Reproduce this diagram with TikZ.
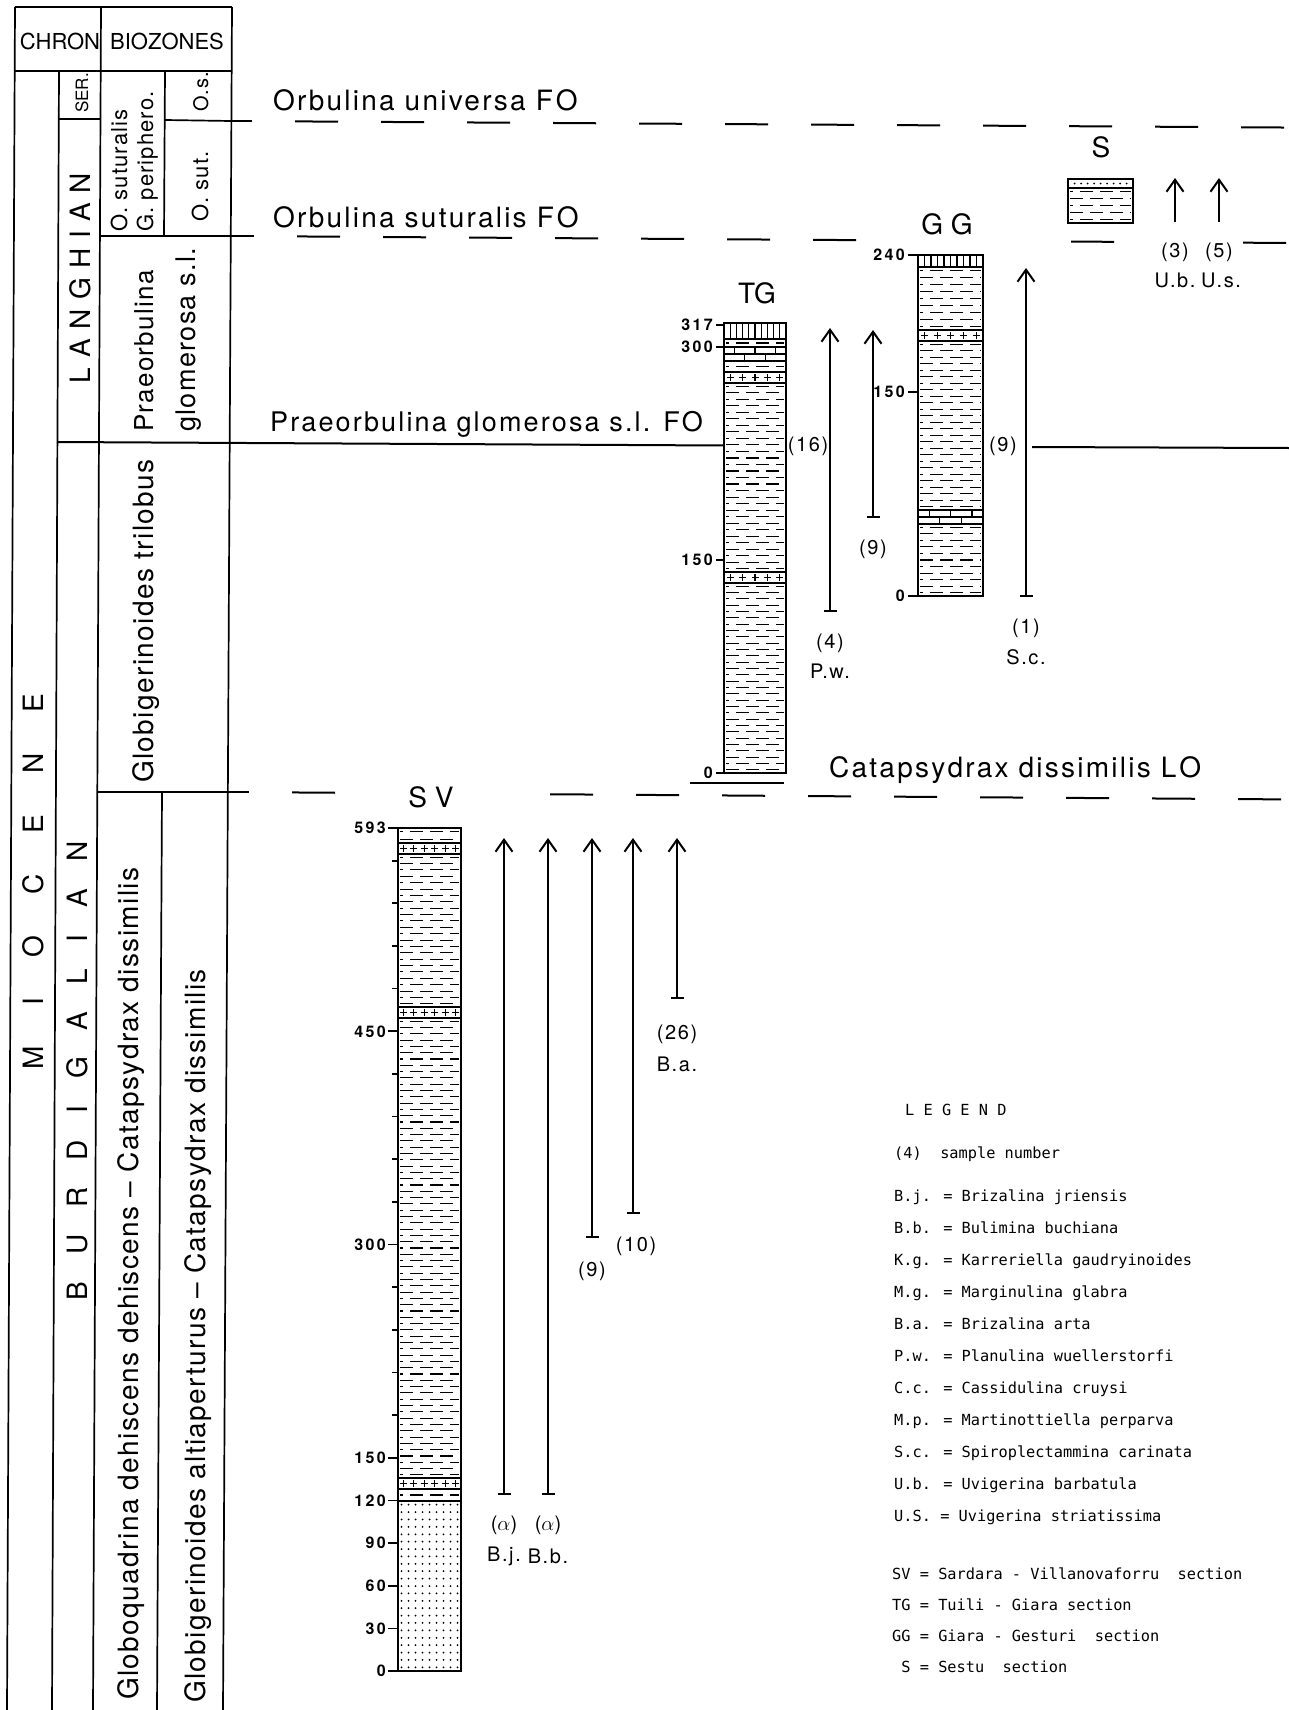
\documentclass[tikz,border=0pt]{standalone}
\usepackage{fontspec}
\usepackage{amsmath}
\usetikzlibrary{arrows.meta,positioning}
\setmainfont{TeX Gyre Heros}
\newfontfamily\evfont{TeX Gyre Heros}[LetterSpace=8]
\newfontfamily\zonefont{TeX Gyre Heros}[LetterSpace=5]
\newfontfamily\smpfont{TeX Gyre Heros}[LetterSpace=8]
\newfontfamily\numfont{TeX Gyre Heros}[LetterSpace=15]
\newfontfamily\legfont{DejaVu Sans Mono}

% lithology symbols: x from #1 to #2, y from #3 to #4 (y grows downwards)
\newcommand\shale[4]{%
  \pgfmathtruncatemacro\nrow{max(1,(#4-#3)/6.3)}%
  \pgfmathsetmacro\rowh{(#4-#3)/\nrow}%
  \foreach \rr in {1,...,\nrow}{%
    \pgfmathsetmacro\yy{#3+(\rr-0.5)*\rowh}%
    \pgfmathsetmacro\ph{mod(\rr,2)*10}%
    \draw[litho,dash pattern=on 13pt off 7pt,dash phase=\ph pt] (#1+2,\yy) -- (#2-2,\yy);
  }}
\newcommand\crossband[4]{%
  \draw[litho] (#1,#3) -- (#2,#3) (#1,#3+11) -- (#2,#3+11);
  \foreach \i in {1,...,#4}{%
    \pgfmathsetmacro\xx{#1+(\i-0.5)*(#2-#1)/#4}%
    \draw[litho] (\xx-3.5,#3+5.5) -- (\xx+3.5,#3+5.5) (\xx,#3+2) -- (\xx,#3+9);
  }}
\newcommand\brick[3]{%
  \draw[litho] (#1,#3) -- (#2,#3) (#1,#3+7) -- (#2,#3+7) (#1,#3+14) -- (#2,#3+14);
  \foreach \f in {0.17,0.5,0.83} \draw[litho] ({#1+\f*(#2-#1)},#3) -- ++(0,7);
  \foreach \f in {0.33,0.67} \draw[litho] ({#1+\f*(#2-#1)},#3+7) -- ++(0,7);
}
\newcommand\hatch[4]{%
  \draw[litho] (#1,#4) -- (#2,#4);
  \foreach \i in {1,...,9} \draw[litho] ({#1+\i*(#2-#1)/10},#3) -- ({#1+\i*(#2-#1)/10},#4);
}
\newcommand\sand[4]{%
  \pgfmathtruncatemacro\nrow{(#4-#3)/7.2}%
  \pgfmathsetmacro\rowh{(#4-#3)/\nrow}%
  \foreach \rr in {1,...,\nrow}{%
    \foreach \cc in {1,...,9}{%
      \fill ({#1+(\cc-0.5)*(#2-#1)/9},{#3+(\rr-0.5)*\rowh}) circle (1pt);
    }}}

\begin{document}
\begin{tikzpicture}[x=1pt,y=-1pt,
  frame/.style={line width=1.7pt},
  col/.style={draw,line width=2.6pt},
  evt/.style={line width=2pt},
  litho/.style={line width=1.1pt},
  taxrange/.style={line width=2pt,{Bar[width=13pt]}-{Straight Barb[length=12pt,width=17pt]}},
  uparrow/.style={line width=2pt,-{Straight Barb[length=12pt,width=17pt]}},
  head/.style={inner sep=0pt,font=\fontsize{22}{24}\selectfont},
  stage/.style={inner sep=0pt,rotate=90,font=\fontsize{28}{30}\selectfont},
  zone/.style={inner sep=0pt,rotate=90,anchor=base west,font=\zonefont\fontsize{28}{30}\selectfont},
  evtext/.style={inner sep=0pt,anchor=base west,font=\evfont\fontsize{28}{30}\selectfont},
  sectitle/.style={inner sep=0pt,font=\fontsize{28}{30}\selectfont},
  ticklab/.style={inner sep=0pt,anchor=east,font=\numfont\bfseries\fontsize{16}{18}\selectfont},
  smp/.style={inner sep=0pt,font=\smpfont\fontsize{20}{22}\selectfont},
  leg/.style={inner sep=0pt,anchor=base west,font=\legfont\fontsize{15.3}{18}\selectfont}]
\useasboundingbox (0,0) rectangle (1289,1710);
\fill[white] (0,0) rectangle (1289,1710);

% chron and biozone table
\draw[frame] (15,7) -- (232,7);
\draw[frame] (15,71) -- (232,71);
\draw[frame] (15,7) -- (7,1710);
\draw[frame] (59,71) -- (52,1710);
\draw[frame] (101,7) -- (93,1710);
\draw[frame] (232,7) -- (223,1710);
\draw[frame] (59,119) -- (101,119);
\draw[frame] (165,71) -- (164,236);
\draw[frame] (165,120) -- (231,121);
\draw[frame] (100,236) -- (231,236);
\draw[frame] (97,792) -- (228,792);
\draw[frame] (162,792) -- (157,1710);

\node[head] (chron) at (60,41) {CHRON};
\node[head] (biozones) at (167,41) {BIOZONES};
\node[stage] (miocene) at (33,882) {\addfontfeature{LetterSpace=146}MIOCENE};
\node[stage] (langhian) at (80,278) {\addfontfeature{LetterSpace=34}LANGHIAN};
\node[stage] (burdigalian) at (77,1071) {\addfontfeature{LetterSpace=96}BURDIGALIAN};
\node[zone,font=\fontsize{17}{18}\selectfont] (ser) at (88,113) {SER.};
\node[zone,font=\zonefont\fontsize{20}{22}\selectfont] (os) at (208,112) {O.s.};
\node[zone,font=\zonefont\fontsize{22}{24}\selectfont] (osut) at (208,222) {O. sut.};
\node[zone,font=\zonefont\fontsize{22}{24}\selectfont] (osutur) at (127,232) {O. suturalis};
\node[zone,font=\zonefont\fontsize{22}{24}\selectfont] (gperi) at (153,232) {G. periphero.};
\node[zone,font=\zonefont\fontsize{26}{28}\selectfont] (praeo) at (153,432) {Praeorbulina};
\node[zone,font=\zonefont\fontsize{27}{28}\selectfont] (glom) at (195,432) {glomerosa s.l.};
\node[zone] (trilobus) at (153,783) {Globigerinoides trilobus};
\node[zone] (dehisc) at (138,1700) {Globoquadrina dehiscens dehiscens – Catapsydrax dissimilis};
\node[zone] (altiap) at (205,1703) {Globigerinoides altiaperturus – Catapsydrax dissimilis};

% bioevents
\draw[evt] (231,121) -- (252,121);
\foreach \s in {295,381,...,1241}
  \draw[evt] (\s,{121+0.0062*(\s-232)}) -- ({\s+43},{121+0.0062*(\s+43-232)});
\draw[evt] (231,236) -- (254,236);
\foreach \s in {297,383,469,555,641,727,813,1071,1243}
  \draw[evt] (\s,{236+0.0066*(\s-232)}) -- ({\s+43},{236+0.0066*(\s+43-232)});
\draw[evt] (57,442) -- (724,445.5);
\draw[evt] (1032,447) -- (1289,448);
\draw[evt] (228,792) -- (249,792);
\foreach \s in {292,550,636,...,1238}
  \draw[evt] (\s,{792+0.007*(\s-229)}) -- ({\s+43},{792+0.007*(\s+43-229)});
\node[evtext] (universa) at (273,110) {Orbulina universa F\kern3pt O};
\node[evtext] (suturalis) at (273,227) {Orbulina suturalis F\kern3pt O};
\node[evtext,font=\evfont\fontsize{27}{30}\selectfont] (glomerosa) at (270,431) {Praeorbulina glomerosa s.l. F\kern2pt O};
\node[evtext] (dissimilis) at (829,777) {Catapsydrax dissimilis L\kern3pt O};

% SV section
\shale{398}{461}{828}{843}
\crossband{398}{461}{843}{6}
\shale{398}{461}{854}{1007}
\crossband{398}{461}{1007}{6}
\shale{398}{461}{1018}{1478}
\crossband{398}{461}{1478}{6}
\shale{398}{461}{1489}{1501}
\draw[litho] (398,1501) -- (461,1501);
\sand{398}{461}{1501}{1671}
\draw[col] (398,828) rectangle (461,1671);
\foreach \m in {180,210,240,270,330,360,390,420,480,510,540,570}
  \draw[frame] (392,{1671-1.4216*\m}) -- (398,{1671-1.4216*\m});
\foreach \m in {0,30,60,90,120,150,300,450,593}{
  \draw[frame] (388,{1671-1.4216*\m}) -- (398,{1671-1.4216*\m});
  \node[ticklab] (sv-\m) at (386,{1671-1.4216*\m}) {\m};
}
\node[sectitle] (sv-title) at (431,797) {S V};

% TG section
\hatch{724}{786}{323}{339}
\shale{724}{786}{339}{347}
\brick{724}{786}{347}
\shale{724}{786}{361}{372}
\crossband{724}{786}{372}{5}
\shale{724}{786}{383}{572}
\crossband{724}{786}{572}{5}
\shale{724}{786}{583}{773}
\draw[col] (724,323) rectangle (786,773);
\foreach \m/\y in {317/325,300/347,150/560,0/773}{
  \draw[frame] (716,\y) -- (724,\y);
  \node[ticklab] (tg-\m) at (713,\y) {\m};
}
\draw[evt] (690,783) -- (784,783);
\node[sectitle] (tg-title) at (757,293) {TG};

% GG section
\hatch{918}{983}{255}{267}
\shale{918}{983}{267}{330}
\crossband{918}{983}{330}{5}
\shale{918}{983}{341}{510}
\brick{918}{983}{510}
\shale{918}{983}{524}{596}
\draw[col] (918,255) rectangle (983,596);
\foreach \m/\y in {240/255,150/392,0/596}{
  \draw[frame] (908,\y) -- (918,\y);
  \node[ticklab] (gg-\m) at (905,\y) {\m};
}
\node[sectitle] (gg-title) at (947,224) {G G};

% S section
\foreach \i in {1,...,9} \fill (1068+\i*6.5,183.5) circle (1pt);
\draw[litho] (1068,188) -- (1133,188);
\shale{1068}{1133}{188}{223}
\draw[col] (1068,179) rectangle (1133,223);
\node[sectitle] (s-title) at (1101,147) {S};

% benthic foraminifera ranges
\foreach \n/\x/\t/\b in {bj/504/838/1495,bb/548/838/1495,sv9/592/838/1238,sv10/633/838/1214,
    ba/677/838/999,pw/830/328/612,tg9/873/330/518,sc/1026/268/597}{
  \coordinate (\n-t) at (\x,\t);
  \coordinate (\n-b) at (\x,\b);
  \draw[taxrange] (\n-b) -- (\n-t);
}
\foreach \n/\x in {ub/1175,us/1219}{
  \coordinate (\n-t) at (\x,178);
  \coordinate (\n-b) at (\x,222);
  \draw[uparrow] (\n-b) -- (\n-t);
}
\node[smp,on grid,below=21pt of bj-b] (bj-n) {($\alpha$)};
\node[smp,on grid,below=31pt of bj-n] (bj-s) {B.j.};
\node[smp,on grid,below=21pt of bb-b] (bb-n) {($\alpha$)};
\node[smp,on grid,below=31pt of bb-n] (bb-s) {B.b.};
\node[smp,on grid,below=24pt of sv9-b] (sv9-n) {(9)};
\node[smp,on grid,below=23pt of sv10-b,xshift=3pt] (sv10-n) {(10)};
\node[smp,on grid,below=26pt of ba-b] (ba-n) {(26)};
\node[smp,on grid,below=30pt of ba-n] (ba-s) {B.a.};
\node[smp,on grid,below=22pt of pw-b] (pw-n) {(4)};
\node[smp,on grid,below=28pt of pw-n] (pw-s) {P.w.};
\node[smp,on grid,below=22pt of tg9-b] (tg9-n) {(9)};
\node[smp,on grid,below=22pt of sc-b] (sc-n) {(1)};
\node[smp,on grid,below=29pt of sc-n] (sc-s) {S.c.};
\node[smp,on grid,below=21pt of ub-b] (ub-n) {(3)};
\node[smp,on grid,below=28pt of ub-n] (ub-s) {U.b.};
\node[smp,on grid,below=21pt of us-b] (us-n) {(5)};
\node[smp,on grid,below=28pt of us-n,xshift=2pt] (us-s) {U.s.};
\node[smp] (tg-count) at (808,446) {(16)};
\node[smp] (gg-count) at (1003,446) {(9)};

% legend
\node[leg] (leg-head) at (905,1115) {L E G E N D};
\node[leg] (leg-smp) at (894,1158) {(4)~~sample number};
\foreach \t [count=\i from 0] in {B.j. = Brizalina jriensis,B.b. = Bulimina buchiana,
    K.g. = Karreriella gaudryinoides,M.g. = Marginulina glabra,B.a. = Brizalina arta,
    P.w. = Planulina wuellerstorfi,C.c. = Cassidulina cruysi,M.p. = Martinottiella perparva,
    S.c. = Spiroplectammina carinata,U.b. = Uvigerina barbatula,U.S. = Uvigerina striatissima}
  \node[leg] (leg-\i) at (894,{1201+32*\i}) {\t};
\foreach \t [count=\i from 0] in {SV = Sardara - Villanovaforru~~section,TG = Tuili - Giara section,
    GG = Giara - Gesturi~~section,~S = Sestu~~section}
  \node[leg] (leg-sec-\i) at (892,{1579+31*\i}) {\t};
\end{tikzpicture}
\end{document}
